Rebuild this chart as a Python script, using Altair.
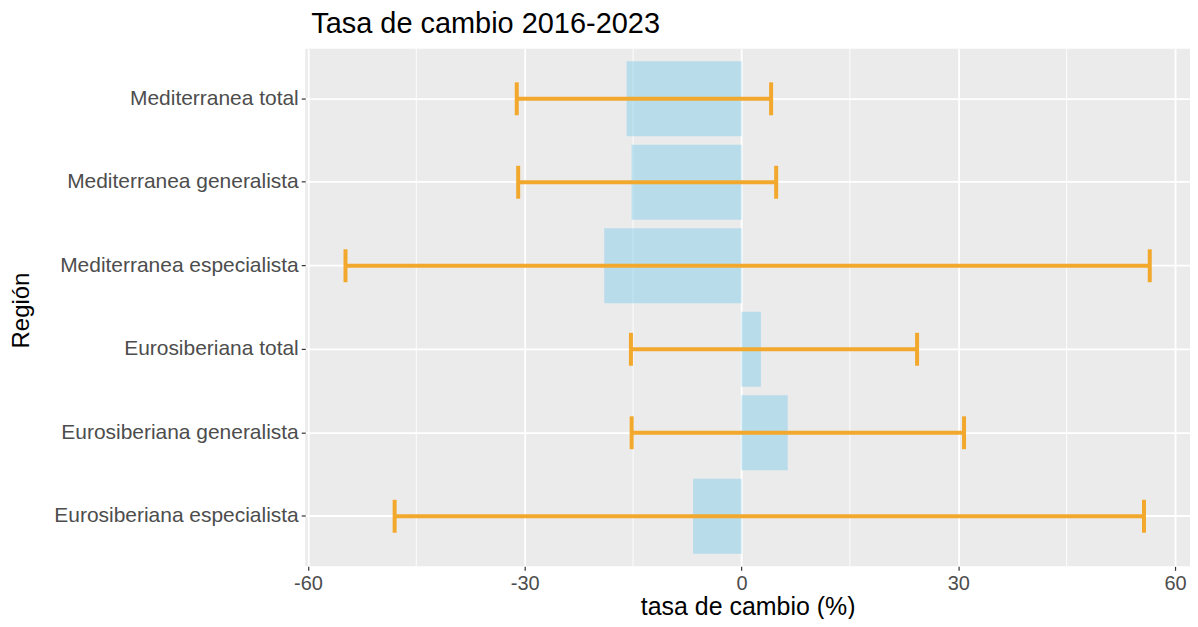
import altair as alt
import pandas as pd

regions = [
    "Mediterranea total",
    "Mediterranea generalista",
    "Mediterranea especialista",
    "Eurosiberiana total",
    "Eurosiberiana generalista",
    "Eurosiberiana especialista",
]
tasa = [-15.9, -15.2, -19.0, 2.7, 6.4, -6.7]
lower = [-31.1, -30.9, -54.8, -15.3, -15.2, -48.0]
upper = [4.1, 4.8, 56.5, 24.3, 30.8, 55.7]

major_breaks = [-60, -30, 0, 30, 60]
minor_breaks = [-45, -15, 15, 45]

df = pd.DataFrame({"region": regions, "tasa": tasa, "lower": lower, "upper": upper})
df["zero"] = 0
minor_df = pd.DataFrame({"x": minor_breaks})

FONT = "Liberation Sans"
xdom = [-60.37, 62.07]

xscale = alt.Scale(domain=xdom, nice=False, zero=False)
yscale = alt.Scale(domain=regions, paddingInner=0.1, paddingOuter=0.15)

xaxis = alt.Axis(
    values=major_breaks, title="tasa de cambio (%)",
    labelExpr="datum.value < 0 ? '-' + abs(datum.value) : '' + datum.value",
    grid=True, gridColor="white", gridWidth=1.8,
    domain=False, tickColor="#333333", tickSize=4, tickWidth=1.2,
    labelColor="#4D4D4D", labelFont=FONT, labelFontSize=20, labelPadding=3,
    titleFont=FONT, titleFontSize=25, titleFontWeight="normal", titleColor="black",
    titlePadding=1,
)
yaxis = alt.Axis(
    title="Región",
    grid=True, gridColor="white", gridWidth=1.8,
    domain=False, tickColor="#333333", tickSize=4, tickWidth=1.2,
    labelColor="#4D4D4D", labelFont=FONT, labelFontSize=21, labelPadding=3,
    labelLimit=400,
    titleFont=FONT, titleFontSize=24, titleFontWeight="normal", titleColor="black",
    titleX=-284, titleY=262, titleBaseline="middle",
)

base = alt.Chart(df)

minor = alt.Chart(minor_df).mark_rule(color="white", strokeWidth=0.9).encode(
    x=alt.X("x:Q", scale=xscale, axis=xaxis),
)

bars = base.mark_bar(color="#87CEEB", opacity=0.5).encode(
    y=alt.Y("region:N", scale=yscale, axis=yaxis, sort=regions),
    x=alt.X("zero:Q", scale=xscale, axis=xaxis),
    x2="tasa:Q",
)

err = base.mark_rule(color="#F2A82C", strokeWidth=4).encode(
    y=alt.Y("region:N", scale=yscale, axis=yaxis, sort=regions),
    x=alt.X("lower:Q", scale=xscale, axis=xaxis),
    x2="upper:Q",
)
cap_lo = base.mark_tick(color="#F2A82C", thickness=4, size=33, orient="vertical", opacity=1).encode(
    y=alt.Y("region:N", scale=yscale, axis=yaxis, sort=regions),
    x=alt.X("lower:Q", scale=xscale, axis=xaxis),
)
cap_hi = base.mark_tick(color="#F2A82C", thickness=4, size=33, orient="vertical", opacity=1).encode(
    y=alt.Y("region:N", scale=yscale, axis=yaxis, sort=regions),
    x=alt.X("upper:Q", scale=xscale, axis=xaxis),
)

chart = alt.layer(minor, bars, err, cap_lo, cap_hi).properties(
    width=887,
    height=519,
    background="white",
    autosize=alt.AutoSizeParams(type="none"),
    padding={"left": 298, "top": 40, "right": 0, "bottom": 52},
    title=alt.TitleParams(
        "Tasa de cambio 2016-2023", anchor="start", frame="group", font=FONT, fontSize=29,
        fontWeight="normal", color="black", offset=9, dx=6,
    ),
).configure_view(fill="#EBEBEB", stroke=None)

chart.save("out.html", embed_options={"renderer": "svg", "actions": False})
